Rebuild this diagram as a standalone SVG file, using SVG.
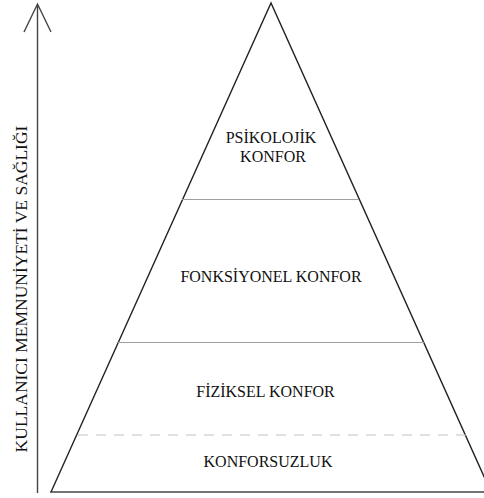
<svg xmlns="http://www.w3.org/2000/svg" width="484" height="498" viewBox="0 0 484 498">
<style>
.t{font-size:16px;fill:#111;text-anchor:middle}
.edge{stroke:#222;stroke-width:1.4;fill:none}
.div{stroke:#a0a0a0;stroke-width:1.2;fill:none}
</style>
<rect width="484" height="498" fill="#fff"/>
<g id="connectors">
<path d="M37.5,493 V4 M24,32 L37.5,4 L51,32" stroke="#444" stroke-width="1.4" fill="none"/>
</g>
<g id="pyramid">
<path class="edge" d="M51,492 L271,3 L491,492"/>
<line x1="50" y1="492" x2="484" y2="492" stroke="#444" stroke-width="1.6"/>
</g>
<g font-family="'Liberation Serif', serif">
<g id="psikolojik">
<text class="t" x="271" y="143">PSİKOLOJİK</text>
<text class="t" x="273" y="161.5">KONFOR</text>
</g>
<g id="fonksiyonel">
<text class="t" x="271" y="282">FONKSİYONEL KONFOR</text>
</g>
<g id="fiziksel">
<text class="t" x="265.5" y="396.5">FİZİKSEL KONFOR</text>
</g>
<g id="konforsuzluk">
<text class="t" x="268" y="466.5">KONFORSUZLUK</text>
</g>
<g id="axis-label">
<text class="t" style="font-size:17.5px" transform="translate(27,289) rotate(-90)">KULLANICI MEMNUNİYETİ VE SAĞLIĞI</text>
</g>
</g>
<line class="div" x1="182" y1="199.5" x2="359" y2="199.5"/>
<line class="div" x1="118" y1="342.5" x2="424" y2="342.5"/>
<line x1="78" y1="435" x2="466" y2="435" stroke="#c4c4c4" stroke-width="1.2" stroke-dasharray="10,8"/>
</svg>
